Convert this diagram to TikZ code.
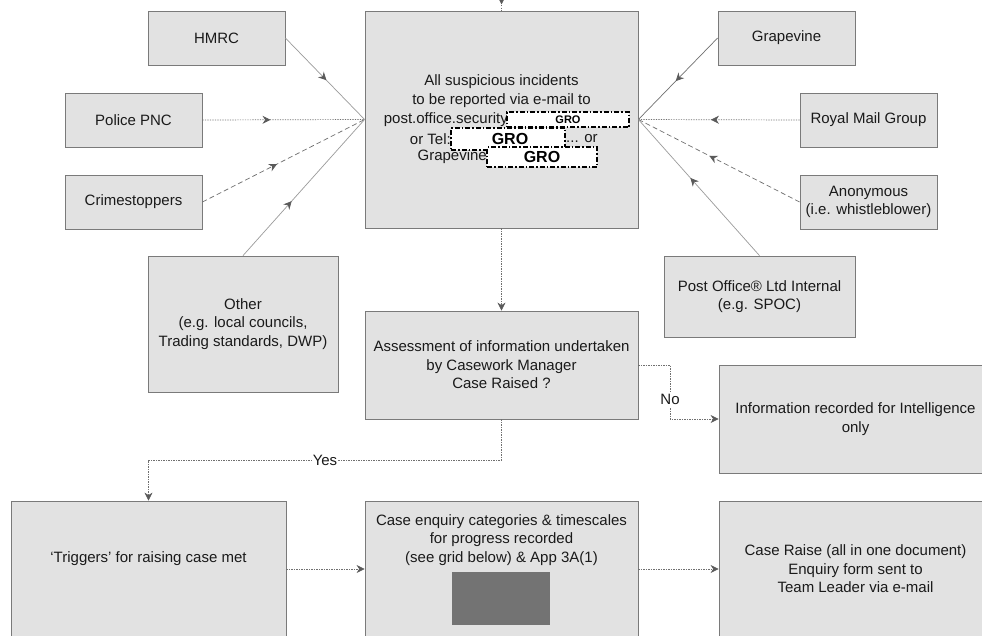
\documentclass[tikz,border=0pt]{standalone}
\usepackage{fontspec}
\setmainfont{Liberation Sans}
\usetikzlibrary{arrows.meta,decorations.markings}
\definecolor{boxfill}{HTML}{E2E2E2}
\definecolor{boxline}{HTML}{7A7A7A}
\definecolor{linegray}{HTML}{707070}
\definecolor{tipgray}{HTML}{5A5A5A}
\definecolor{txt}{HTML}{1A1A1A}
\tikzset{
  box/.style={draw=boxline, fill=boxfill, line width=0.8pt, inner sep=0pt, align=center,
    text=txt, font=\fontsize{15}{18.5}\selectfont},
  lbl/.style={text=txt, font=\fontsize{15}{18.5}\selectfont, inner sep=0pt, align=center},
  gro/.style={draw=black, fill=white, dash pattern=on 5pt off 2pt on 1.5pt off 2pt,
    line width=1.5pt, inner sep=0pt, text=black},
  link/.style={draw=linegray, line width=0.7pt},
  dots/.style={dash pattern=on 1.2pt off 1.3pt},
  dashes/.style={dash pattern=on 5pt off 3pt},
  midarrow/.style={postaction={decorate}, decoration={markings,
    mark=at position #1 with {\arrow{Stealth[length=8pt,width=8pt,tipgray]}}}},
  endarrow/.style={-{Stealth[length=8pt,width=8pt,tipgray]}},
}
\begin{document}
\begin{tikzpicture}[x=1pt,y=-1pt]
\clip (0,0) rectangle (982,635);
\fill[white] (0,0) rectangle (982,635);

% sources on the left
\node[box, minimum width=137pt, minimum height=54pt] (hmrc) at (216.5,38) {HMRC};
\node[box, minimum width=137pt, minimum height=54pt] (police) at (133.5,120) {Police PNC};
\node[box, minimum width=137pt, minimum height=54pt] (crime) at (133.5,202) {Crimestoppers};
\node[box, minimum width=190pt, minimum height=136pt] (other) at (243,324)
  {Other\\(e.g. local councils,\\Trading standards, DWP)};

% sources on the right
\node[box, minimum width=137pt, minimum height=54pt] (grape) at (786.5,38) {Grapevine};
\node[box, minimum width=137pt, minimum height=54pt] (royal) at (868.5,120) {Royal Mail Group};
\node[box, minimum width=137pt, minimum height=54pt] (anon) at (868.5,202)
  {Anonymous\\(i.e. whistleblower)};
\node[box, minimum width=191pt, minimum height=81pt] (postoff) at (759.5,296.5)
  {Post Office® Ltd Internal\\(e.g. SPOC)};

% reporting box
\node[box, minimum width=273pt, minimum height=217pt] (report) at (501.5,119.5) {};
\node[lbl] (rep1) at (501.5,82) {All suspicious incidents};
\node[lbl] (rep2) at (501.5,101) {to be reported via e-mail to};
\node[lbl, anchor=east] (rep3) at (508,120) {post.office.security};
\node[lbl, anchor=east] (rep4) at (451,139) {or Tel:};
\node[lbl, anchor=west] (rep5) at (566,139) {... or};
\node[lbl, anchor=east] (rep6) at (487,157) {Grapevine};
\node[gro, minimum width=114pt, minimum height=22pt, font=\fontsize{16}{16}\bfseries] (gro2) at (508,139) {\hspace*{4pt}GRO};
\node[gro, minimum width=122pt, minimum height=15pt, font=\fontsize{11}{11}\bfseries] (gro1) at (568,119.5) {GRO};
\node[gro, minimum width=110pt, minimum height=20pt, font=\fontsize{16}{16}\bfseries] (gro3) at (542,157) {GRO};

% decision and outcomes
\node[box, minimum width=273pt, minimum height=108pt] (assess) at (501.5,365)
  {Assessment of information undertaken\\by Casework Manager\\Case Raised ?};
\node[box, minimum width=273pt, minimum height=108pt] (info) at (855.5,419)
  {Information recorded for Intelligence\\only};
\node[box, minimum width=275pt, minimum height=136pt] (trig) at (148.5,569) {};
\node[lbl] (trigtxt) at (148.5,559) {`Triggers' for raising case met};
\node[box, minimum width=273pt, minimum height=136pt] (enquiry) at (501.5,569) {};
\node[lbl] (enqtxt) at (501.5,540)
  {Case enquiry categories \& timescales\\for progress recorded\\(see grid below) \& App 3A(1)};
\fill[black!55] (452,572) rectangle (550,625);
\node[box, minimum width=273pt, minimum height=136pt] (raise) at (855.5,569)
  {Case Raise (all in one document)\\Enquiry form sent to\\Team Leader via e-mail};

% connectors into the reporting box
\coordinate (above) at (501.5,-20);
\draw[link, dots, midarrow=0.8] (above) -- (report.north);
\draw[link, draw=linegray!70, midarrow=0.52] (hmrc.east) -- (report.west);
\draw[link, dots, midarrow=0.42] (police.east) -- (report.west);
\draw[link, dashes, midarrow=0.46] (crime.east) -- (report.west);
\draw[link, draw=linegray!70, midarrow=0.4] (other.north) -- (report.west);
\draw[link, midarrow=0.53] (grape.west) -- (report.east);
\draw[link, dots, midarrow=0.55] (royal.west) -- (report.east);
\draw[link, dashes, midarrow=0.56] (anon.west) -- (report.east);
\draw[link, draw=linegray!70, midarrow=0.57] (postoff.north) -- (report.east);

% flow
\draw[link, dots, endarrow] (report.south) -- (assess.north);
\coordinate (yesbend) at (501.5,460);
\draw[link, dots, endarrow] (assess.south) -- (yesbend)
  -| node[lbl, fill=white, pos=0.25, inner sep=1pt] (yes) {Yes} (trig.north);
\coordinate (nobend) at (670,365);
\draw[link, dots, endarrow] (assess.east) -- (nobend)
  |- node[lbl, fill=white, pos=0.32, inner sep=2pt] (no) {No} (info.west);
\draw[link, dots, endarrow] (trig.east) -- (enquiry.west);
\draw[link, dots, endarrow] (enquiry.east) -- (raise.west);
\end{tikzpicture}
\end{document}
